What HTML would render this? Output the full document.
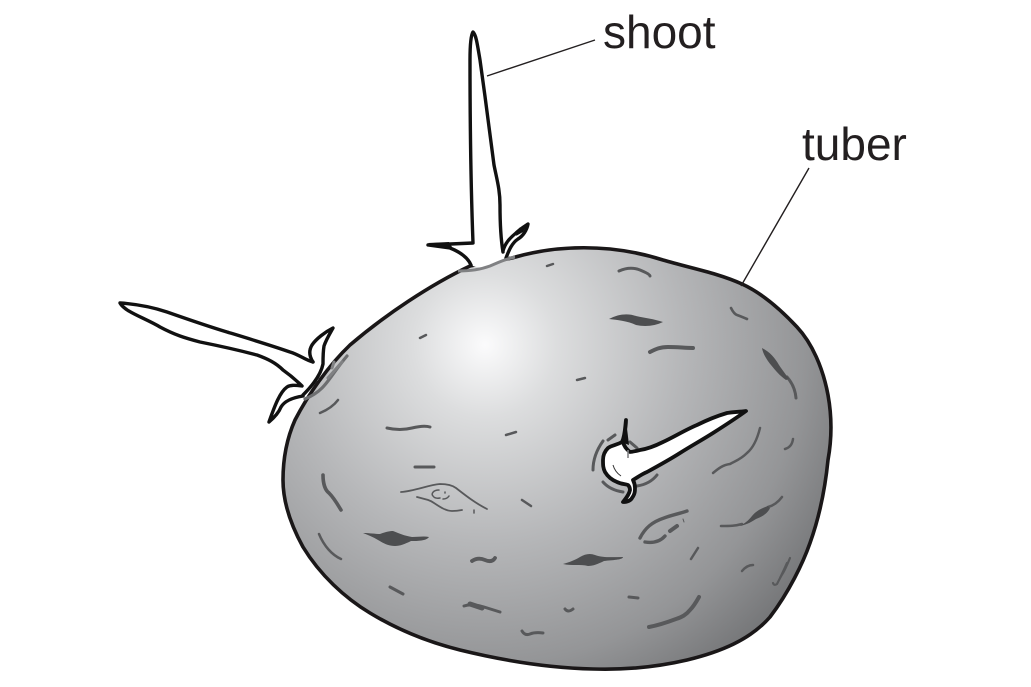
<!DOCTYPE html>
<html><head><meta charset="utf-8"><style>
html,body{margin:0;padding:0;background:#fff}
svg{display:block}
text{font-family:"Liberation Sans",sans-serif;font-size:46px;fill:#231f20}
</style></head><body>
<svg width="1031" height="687" viewBox="0 0 1031 687" xmlns="http://www.w3.org/2000/svg">
<defs><radialGradient id="g" gradientUnits="userSpaceOnUse" cx="485" cy="345" r="400">
<stop offset="0" stop-color="#fbfbfc"/><stop offset=".18" stop-color="#dcddde"/><stop offset=".5" stop-color="#b5b6b8"/><stop offset=".8" stop-color="#949597"/><stop offset="1" stop-color="#737476"/></radialGradient></defs>
<path d="M512 258C555 245 610 243 663 260C690 268 718 273 742 284C764 294 783 312 797 327C812 343 823 368 828 395C832 417 832 438 828 460C825 490 819 518 810 543C803 563 789 592 770 617C750 640 720 652 687 660C657 667 625 670 593 669C550 668 505 661 460 650C428 642 398 630 370 613C345 598 320 575 303 547C292 527 283 503 283 480C283 458 287 438 295 420C308 395 328 366 350 345C385 315 430 285 470 266Z" fill="url(#g)" stroke="#1a1718" stroke-width="3.6"/>
<g fill="none" stroke="#58595b" stroke-width="2.5" stroke-linecap="round" stroke-linejoin="round">
<path d="M619 271Q630 266 640 270T650 276" stroke-width="3"/>
<path d="M731 308Q734 314 737 315T747 319" stroke-width="2.6"/>
<path d="M420 338L426 335M547 266L553 264M577 380L585 378M506 435L516 432M522 500L531 506"/>
<path d="M387 428Q400 431 412 428T430 427" stroke-width="3"/>
<path d="M415 467H434" stroke-width="3"/>
<path d="M401 492C415 491 428 485 440 484C447 484 452 485 456 488C465 495 475 503 487 509M417 497C425 499 430 500 434 503C440 507 446 511 452 511Q457 511 462 510" stroke-width="1.8"/>
<path d="M439 490C433 490 431 494 433 496Q435 499 440 498M443 499Q447 499 449 496M445 492V493M474 510V513" stroke-width="1.5"/>
<path d="M323 475C323 483 325 490 329 493C334 498 338 505 341 510" stroke-width="3.6"/>
<path d="M319 534C324 546 332 555 341 559"/>
<path d="M390 587L403 594" stroke-width="3"/>
<path d="M472 561Q478 557 485 560T495 558" stroke-width="3.8"/>
<path d="M464 606C470 604 478 605 484 607L500 612" stroke-width="3"/>
<path d="M470 604L482 608" stroke-width="5"/>
<path d="M565 609Q568 613 573 609" stroke-width="3"/>
<path d="M522 631Q525 636 530 634T543 633" stroke-width="3"/>
<path d="M629 597L638 598" stroke-width="3"/>
<path d="M650 352C656 349 660 347 668 347C678 347 685 348 693 348" stroke-width="4"/>
<path d="M787 377Q795 386 796 398" stroke-width="3"/>
<path d="M760 428C757 440 753 448 747 453C740 460 735 461 730 464C723 465 719 468 713 473"/>
<path d="M793 439Q792 447 785 449"/>
<path d="M687 511C678 514 672 515 664 518C652 522 645 528 640 538" stroke-width="3.4"/>
<path d="M645 542Q658 544 665 536" stroke-width="3.4"/>
<path d="M670 531L677 526" stroke-width="4"/>
<path d="M683 519L684 522" stroke-width="1"/>
<path d="M698 548L691 559"/>
<path d="M721 526C730 526 735 526 742 524"/>
<path d="M768 507Q776 505 782 497"/>
<path d="M753 565Q747 565 742 571"/>
<path d="M790 558Q785 570 783 573T777 584Q774 586 773 583M787 563Q783 572 780 578" stroke-width="2.2"/>
<path d="M699 597Q694 606 690 610C686 615 682 617 676 619C668 622 660 625 649 627" stroke-width="4"/>
<path d="M338 400Q332 408 320 413"/>
<path d="M305 399C312 396 318 392 322 388C330 380 335 370 347 356" stroke="#6d6e70" stroke-width="3.2"/>
<path d="M328 378Q335 370 342 362M334 362L332 368" stroke="#808183" stroke-width="3"/>
<path d="M603 441Q593 455 593 470M608 440L615 435M603 482Q610 490 623 492M637 486Q650 484 657 475M630 442L637 448" stroke="#58595b" stroke-width="3"/>
</g>
<g fill="#4d4e50">
<path d="M363 533C370 533 375 534 380 534C385 532 390 531 393 531C398 533 405 536 412 537C418 537 424 536 429 537C426 541 418 541 411 541C405 544 400 546 395 546C388 546 383 543 378 540C373 537 368 535 363 533Z"/>
<path d="M609 319C618 314 628 313 636 316C645 318 654 319 663 322C655 326 645 327 636 325C628 321 617 320 609 319Z"/>
<path d="M563 564C570 562 575 560 580 557C585 554 590 553 595 555C603 558 613 557 623 557C623 560 612 560 604 561C598 564 593 566 588 566C580 564 572 566 563 564Z"/>
<path d="M762 348C770 352 775 358 779 365C783 371 787 376 789 379L786 380C780 376 775 370 771 365C767 360 763 354 762 348Z"/>
<path d="M740 526C745 523 748 521 752 516C756 511 762 508 768 506L770 508C768 513 762 517 756 519C750 523 745 525 740 526Z"/>
</g>
<!-- top shoot -->
<path d="M473 32C470 40 470 53 470 70L473 243L428 245L450 249L466 257L473 266C484 270 497 266 506 258L510 247L502 250C501 232 500 205 498 193C496 180 493 167 491 150L478 45C477 38 475 33 473 32Z" fill="#fff"/>
<path d="M471 265C468 258 460 252 450 248L428 245L473 243C471 190 470 110 470 60C470 45 471 35 473 32C476 35 477 42 480 60C485 95 490 135 494 165C497 180 500 190 500 205C500 225 501 240 503 252" fill="none" stroke="#111" stroke-width="3.4" stroke-linejoin="round" stroke-linecap="round"/>
<path d="M428 243L449 242L452 247L440 248Z" fill="#111"/>
<path d="M503 251C505 243 510 238 516 233C520 229 525 226 528 224C527 230 523 236 518 239C512 243 509 250 506 258" fill="none" stroke="#111" stroke-width="3.4" stroke-linejoin="round" stroke-linecap="round"/>
<path d="M528 224L519 228L516 236L523 232Z" fill="#111"/>
<path d="M458 271C470 271 482 269 490 266C497 263 505 259 515 257" fill="none" stroke="#808183" stroke-width="3"/>
<!-- left shoot -->
<path d="M120 303C135 304 152 307 167 312C187 319 207 326 227 332C250 339 270 345 290 352L313 362L324 362L318 380L303 396L287 400L280 408L283 370L257 355L200 342L160 327C145 318 130 312 120 303Z" fill="#fff"/>
<path d="M313 362C305 360 300 355 290 352C270 345 250 339 227 332C207 326 187 319 167 312C152 307 135 304 120 303C125 312 145 318 160 327C175 335 185 338 200 342C220 346 238 350 257 355C268 359 276 363 283 370C290 375 296 380 302 386C294 385 290 385 287 387C280 392 275 405 269 422C276 416 279 412 281 407C284 402 290 398 303 396" fill="none" stroke="#111" stroke-width="3.4" stroke-linejoin="round" stroke-linecap="round"/>
<path d="M313 362C309 356 309 350 312 345C316 339 325 332 333 328C329 335 326 340 324 346C323 352 323 358 323 364C321 374 314 384 303 395" fill="none" stroke="#111" stroke-width="3.4" stroke-linejoin="round" stroke-linecap="round"/>
<!-- front shoot -->
<path d="M746 411C738 412 733 412 727 413C717 416 707 420 697 425C685 430 674 437 663 442C655 446 647 449 640 450C636 451 632 452 630 452C626 449 624 446 623 442C624 435 626 428 626 420C625 428 625 436 622 442C617 445 612 445 608 448C604 452 603 456 603 460C603 465 603 468 605 472C608 477 612 480 617 482C621 484 625 484 628 485C630 487 630 489 630 490C629 495 626 498 623 502C628 502 631 500 632 498C635 494 635 491 635 488C635 484 634 482 633 480C638 477 642 474 647 472C658 466 669 460 680 453C691 446 702 440 713 433C724 426 735 419 746 411Z" fill="#fff" stroke="#111" stroke-width="3.8" stroke-linejoin="round"/>
<path d="M626 420L621 442L629 445Z" fill="#111"/>
<path d="M613 465Q615 472 621 476" fill="none" stroke="#333" stroke-width="1"/>
<path d="M628 450L628 458" fill="none" stroke="#808183" stroke-width="1.6"/>
<!-- leaders -->
<path d="M487 76L595 40M741 286L809 168" fill="none" stroke="#231f20" stroke-width="1.4"/>
<text x="603" y="48">shoot</text>
<text x="802" y="160">tuber</text>
</svg>
</body></html>
